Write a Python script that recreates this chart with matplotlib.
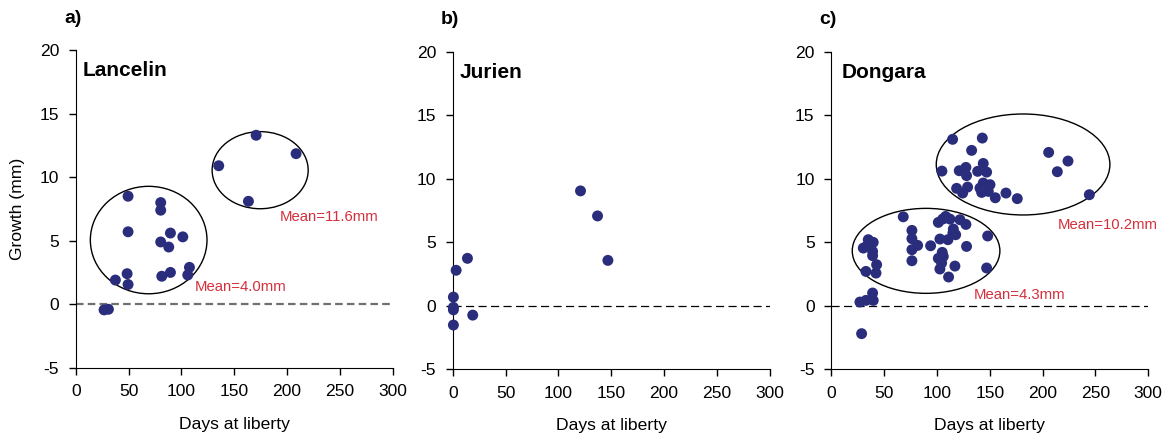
"""
Growth vs days at liberty for three sites
"""
import matplotlib
matplotlib.use("Agg")
import matplotlib.pyplot as plt
from matplotlib.patches import Ellipse

plt.rcParams["font.family"] = ["Liberation Sans", "DejaVu Sans"]
plt.rcParams["axes.unicode_minus"] = False

# Lancelin
lancelin_days = [49.5, 49.5, 48.6, 49.5, 37.5, 80.4, 80.4, 80.4, 88.0, 89.6,
                 101.3, 81.4, 89.6, 107.6, 106.0, 26.8, 30.9,
                 135.3, 170.7, 208.5, 163.4]
lancelin_growth = [8.5, 5.7, 2.4, 1.55, 1.9, 8.0, 7.4, 4.9, 4.5, 5.6,
                   5.3, 2.2, 2.5, 2.9, 2.3, -0.45, -0.4,
                   10.9, 13.3, 11.85, 8.1]

# Jurien
jurien_days = [0.6, 0.6, 0.6, 0.6, 3.2, 13.9, 18.9, 120.9, 137.0, 146.8]
jurien_growth = [0.68, -0.13, -0.32, -1.52, 2.79, 3.73, -0.74, 9.04, 7.07, 3.57]

# Dongara
dongara_days = [28.7, 27.1, 32.8, 39.1, 39.7, 32.8, 42.3, 42.9, 39.1, 39.1,
                30.3, 35.0, 39.7, 34.0, 68.1, 76.3, 76.3, 76.3, 76.3, 81.7,
                94.0, 101.3, 105.4, 108.2, 112.3, 102.8, 110.4, 115.1, 115.5, 117.7,
                105.0, 106.0, 101.3, 104.4, 102.8, 111.0, 117.0, 128.0, 121.8, 127.4,
                148.0, 147.0,
                114.8, 142.9, 132.8, 104.7, 121.1, 127.4, 128.0, 143.8, 147.0, 138.5,
                118.6, 124.3, 129.0, 140.7, 143.8, 150.2, 142.3, 148.6, 155.2, 165.3,
                176.0, 205.7, 213.9, 224.0, 244.2]
dongara_growth = [-2.2, 0.29, 0.42, 1.0, 0.42, 2.7, 2.57, 3.23, 3.94, 4.28,
                  4.54, 5.2, 4.99, 4.72, 7.0, 5.93, 5.28, 4.41, 3.54, 4.75,
                  4.72, 6.56, 6.82, 7.03, 6.82, 5.25, 5.2, 5.72, 6.04, 5.59,
                  4.2, 3.88, 3.73, 3.36, 2.89, 2.26, 3.12, 4.67, 6.77, 6.4,
                  5.49, 2.97,
                  13.1, 13.2, 12.23, 10.6, 10.63, 10.89, 10.24, 11.2, 10.52, 10.58,
                  9.24, 8.87, 9.34, 9.26, 9.66, 9.53, 8.92, 9.0, 8.5, 8.87,
                  8.43, 12.07, 10.55, 11.39, 8.74]

# group outlines: (centre days, centre growth, width days, height mm)
lancelin_groups = [(69.0, 5.05, 110.4, 8.46), (174.5, 10.55, 90.9, 6.07)]
dongara_groups = [(89.7, 4.32, 139.7, 6.69), (181.5, 11.12, 164.3, 7.95)]

# mean labels: (text, days, growth)
lancelin_means = [("Mean=4.0mm", 112.3, 1.39), ("Mean=11.6mm", 192.7, 6.83)]
dongara_means = [("Mean=4.3mm", 134.7, 0.87), ("Mean=10.2mm", 214.2, 6.38)]

panels = [
    ("a)", "Lancelin", lancelin_days, lancelin_growth, lancelin_groups, lancelin_means, "#707070", 1.6),
    ("b)", "Jurien", jurien_days, jurien_growth, [], [], "black", 0.9),
    ("c)", "Dongara", dongara_days, dongara_growth, dongara_groups, dongara_means, "black", 0.9),
]

dot_color = "#2a2d7c"
red = "#d4303c"

fig = plt.figure(figsize=(11.69, 4.38), dpi=100)
lefts = [0.0648, 0.3873, 0.7111]
bottoms = [0.1605, 0.157, 0.157]

for i, (tag, site, days, growth, groups, means, zcol, zlw) in enumerate(panels):
    ax = fig.add_axes([lefts[i], bottoms[i], 0.2712, 0.725])
    ax.set_xlim(0, 300)
    ax.set_ylim(-5, 20)
    ax.set_xticks(range(0, 301, 50))
    ax.set_yticks(range(-5, 21, 5))
    ax.spines["top"].set_visible(False)
    ax.spines["right"].set_visible(False)
    ax.tick_params(direction="out", length=5, width=1, labelsize=12.6, pad=7)

    if zlw > 1:
        ax.plot([0, 300], [0, 0], color=zcol, lw=zlw, ls=(0, (3.4, 1.9)), zorder=1)
    else:
        ax.plot([0, 300], [0, 0], color=zcol, lw=zlw, ls=(0, (6.5, 3.5)), zorder=1)

    for cx, cy, w, h in groups:
        ax.add_patch(Ellipse((cx, cy), w, h, fill=False, edgecolor="black", lw=1, zorder=2))

    ax.scatter(days, growth, s=62, color=dot_color, edgecolors="none", zorder=3, clip_on=False)

    for txt, x, y in means:
        ax.text(x, y, txt, color=red, fontsize=10.7, ha="left", va="center")

    ax.text(6.3 if i < 2 else 9.5, 18.4, site, fontsize=15, fontweight="bold", va="center")
    ax.text(-0.037, 1.10, tag, transform=ax.transAxes, fontsize=14, fontweight="bold",
            ha="left", va="center")

    ax.set_xlabel("Days at liberty", fontsize=12.6)
    ax.xaxis.set_label_coords(0.5, -0.155)
    if i == 0:
        ax.set_ylabel("Growth (mm)", fontsize=12.6)
        ax.yaxis.set_label_coords(-0.16, 0.5)

fig.savefig("out.png", dpi=100)
